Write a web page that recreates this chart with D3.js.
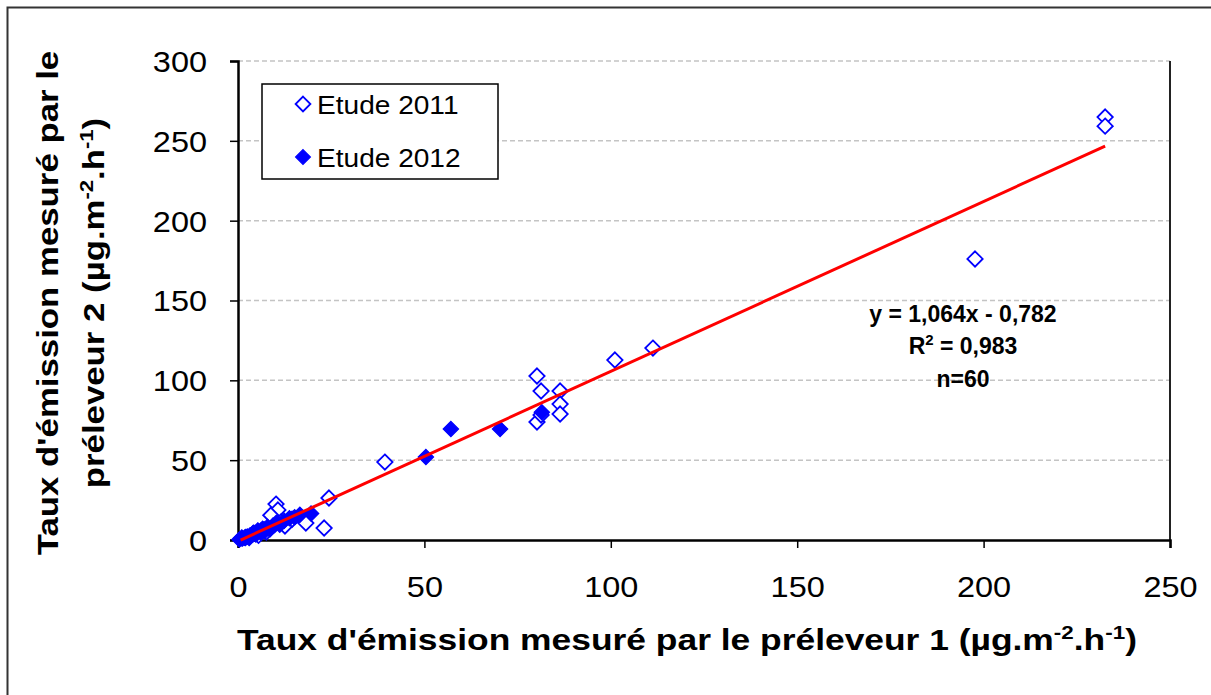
<!DOCTYPE html>
<html>
<head>
<meta charset="utf-8">
<script src="https://cdn.jsdelivr.net/npm/d3@7"></script>
<style>
  html, body { margin: 0; padding: 0; background: #fff; }
  svg { display: block; font-family: Arial, "Liberation Sans", sans-serif; }
</style>
</head>
<body>
<svg id="chart" width="1211" height="695"></svg>
<script>
// Emission rates (µg.m-2.h-1): sampler 1 (x) vs sampler 2 (y)
const etude2011X = [232.6, 232.6, 197.7, 111.3, 101.1, 80.2, 81.3, 86.4, 86.4, 86.4, 80.2, 81.3,
  39.4, 24.4, 23.1, 10.2, 10.7, 12.6, 18.2,
  1.0, 2.0, 3.2, 4.0, 5.0, 5.5, 6.2, 7.0, 7.6, 8.4, 9.0, 9.8, 11.5, 8.8, 14.5];
const etude2011Y = [264.9, 259.2, 176.0, 120.2, 112.7, 102.7, 93.3, 93.3, 85.1, 78.9, 73.9, 78.3,
  48.8, 26.3, 7.5, 22.5, 18.8, 8.8, 10.6,
  1.3, 1.6, 2.6, 3.9, 4.4, 2.9, 5.6, 6.4, 5.0, 7.3, 8.4, 9.6, 11.2, 15.5, 13.0];

const etude2012X = [57.1, 70.3, 50.4, 81.5,
  0.4, 1.2, 1.8, 2.5, 3.0, 3.6, 4.2, 4.8, 5.3, 6.0, 6.6, 7.2, 7.9, 8.6, 9.4, 10.3, 11.2, 12.4,
  13.8, 15.2, 16.6, 19.6];
const etude2012Y = [69.5, 69.5, 52.0, 80.0,
  0.3, 0.9, 1.4, 2.2, 1.2, 3.0, 4.6, 3.4, 6.0, 4.8, 7.0, 5.6, 8.2, 6.8, 9.0, 10.8, 9.6, 12.0,
  13.6, 14.2, 15.8, 16.6];

// Linear fit of the whole set (n = 60)
const fitSlope = 1.064;
const fitIntercept = -0.782;
const fitRange = [0.7, 232.6];
const fitLines = ["y = 1,064x - 0,782", "R2 = 0,983", "n=60"];

const xTicks = [0, 50, 100, 150, 200, 250];
const yTicks = [0, 50, 100, 150, 200, 250, 300];
const legendLabels = ["Etude 2011", "Etude 2012"];

const svg = d3.select("#chart");
const W = 1211, H = 695;
const plot = { left: 238, right: 1170, top: 61, bottom: 540 };

svg.append("rect").attr("width", W).attr("height", H).attr("fill", "#fff");
// outer frame of the chart area
svg.append("rect")
  .attr("x", 7.5).attr("y", 7.5).attr("width", W).attr("height", H)
  .attr("fill", "none").attr("stroke", "#333").attr("stroke-width", 2);

const x = d3.scaleLinear().domain([0, 250]).range([plot.left, plot.right]);
const y = d3.scaleLinear().domain([0, 300]).range([plot.bottom, plot.top]);

// horizontal dashed gridlines
svg.append("g").selectAll("line")
  .data(yTicks.filter(v => v > 0))
  .join("line")
  .attr("x1", plot.left).attr("x2", plot.right)
  .attr("y1", d => y(d)).attr("y2", d => y(d))
  .attr("stroke", "#c4c4c4").attr("stroke-width", 1.5)
  .attr("stroke-dasharray", "5,3");

// right edge of plot area
svg.append("line")
  .attr("x1", plot.right).attr("x2", plot.right)
  .attr("y1", plot.top).attr("y2", plot.bottom)
  .attr("stroke", "#222").attr("stroke-width", 2);

// axes
const tickFont = 29, tickStretch = 1.12;
const xAxis = d3.axisBottom(x).tickValues(xTicks).tickSize(8).tickFormat(d3.format("d"));
const yAxis = d3.axisLeft(y).tickValues(yTicks).tickSize(8).tickFormat(d3.format("d"));

const gx = svg.append("g").attr("transform", `translate(0,${plot.bottom})`).call(xAxis);
const gy = svg.append("g").attr("transform", `translate(${plot.left},0)`).call(yAxis);
[gx, gy].forEach(g => {
  g.select(".domain").attr("stroke", "#000").attr("stroke-width", 2.5);
  g.selectAll(".tick line").attr("stroke", "#000").attr("stroke-width", 1.5);
  g.selectAll(".tick text").attr("fill", "#000").style("font-size", tickFont + "px")
    .style("font-family", "Arial, 'Liberation Sans', sans-serif")
    .attr("x", 0).attr("y", 0);
});
gx.selectAll(".tick text").attr("dy", 0)
  .attr("transform", `translate(0,57) scale(${tickStretch},1)`);
gy.selectAll(".tick text").attr("dy", "0.36em")
  .attr("transform", `translate(-31,0) scale(${tickStretch},1)`);

// diamond markers
const diamond = d3.symbol().type(d3.symbolDiamond2).size(150);

const s2011 = d3.zip(etude2011X, etude2011Y);
const s2012 = d3.zip(etude2012X, etude2012Y);

svg.append("g").selectAll("path")
  .data(s2011)
  .join("path")
  .attr("d", diamond)
  .attr("transform", d => `translate(${x(d[0])},${y(d[1])})`)
  .attr("fill", "#fff").attr("stroke", "#0000ff").attr("stroke-width", 1.8);

svg.append("g").selectAll("path")
  .data(s2012)
  .join("path")
  .attr("d", diamond)
  .attr("transform", d => `translate(${x(d[0])},${y(d[1])})`)
  .attr("fill", "#0000ff").attr("stroke", "#0000ff").attr("stroke-width", 1.2);

// regression line
svg.append("line")
  .attr("x1", x(fitRange[0])).attr("y1", y(fitSlope * fitRange[0] + fitIntercept))
  .attr("x2", x(fitRange[1])).attr("y2", y(fitSlope * fitRange[1] + fitIntercept))
  .attr("stroke", "#ff0000").attr("stroke-width", 3);

// fit annotation
const ann = svg.append("g").attr("font-weight", "bold").attr("font-size", 23).attr("text-anchor", "middle");
ann.append("text").attr("x", 963).attr("y", 322).text(fitLines[0]);
const r2 = ann.append("text").attr("x", 963).attr("y", 354);
r2.append("tspan").text("R");
r2.append("tspan").attr("dy", -9).attr("font-size", 15).text("2");
r2.append("tspan").attr("dy", 9).text(" = 0,983");
ann.append("text").attr("x", 963).attr("y", 387).text(fitLines[2]);

// legend
const lg = svg.append("g");
lg.append("rect").attr("x", 262).attr("y", 84).attr("width", 236).attr("height", 95)
  .attr("fill", "#fff").attr("stroke", "#000").attr("stroke-width", 1.5);
const legendSym = d3.symbol().type(d3.symbolDiamond2).size(140);
legendLabels.forEach((lab, i) => {
  const cy = 104 + i * 53;
  lg.append("path").attr("d", legendSym)
    .attr("transform", `translate(303,${cy})`)
    .attr("fill", i === 0 ? "#fff" : "#0000ff")
    .attr("stroke", "#0000ff").attr("stroke-width", i === 0 ? 1.8 : 1.2);
  lg.append("text").attr("transform", `translate(317,${cy + 10}) scale(1.08,1)`)
    .attr("font-size", 26).attr("fill", "#000").text(lab);
});

// axis titles with superscripts
function unitTitle(sel, prefix) {
  sel.append("tspan").text(prefix + " (µg.m");
  sel.append("tspan").attr("dy", -11).attr("font-size", 19).text("-2");
  sel.append("tspan").attr("dy", 11).text(".h");
  sel.append("tspan").attr("dy", -11).attr("font-size", 19).text("-1");
  sel.append("tspan").attr("dy", 11).text(")");
}

const xt = svg.append("text").attr("transform", "translate(687,650) scale(1.18,1)")
  .attr("text-anchor", "middle").attr("font-weight", "bold").attr("font-size", 30);
unitTitle(xt, "Taux d'émission mesuré par le préleveur 1");

const yt = svg.append("g").attr("transform", "translate(0,303) rotate(-90) scale(1.16,1)")
  .attr("font-weight", "bold").attr("font-size", 30).attr("text-anchor", "middle");
yt.append("text").attr("x", 0).attr("y", 58).text("Taux d'émission mesuré par le");
const yt2 = yt.append("text").attr("x", 0).attr("y", 104);
unitTitle(yt2, "préleveur 2");
</script>
</body>
</html>
